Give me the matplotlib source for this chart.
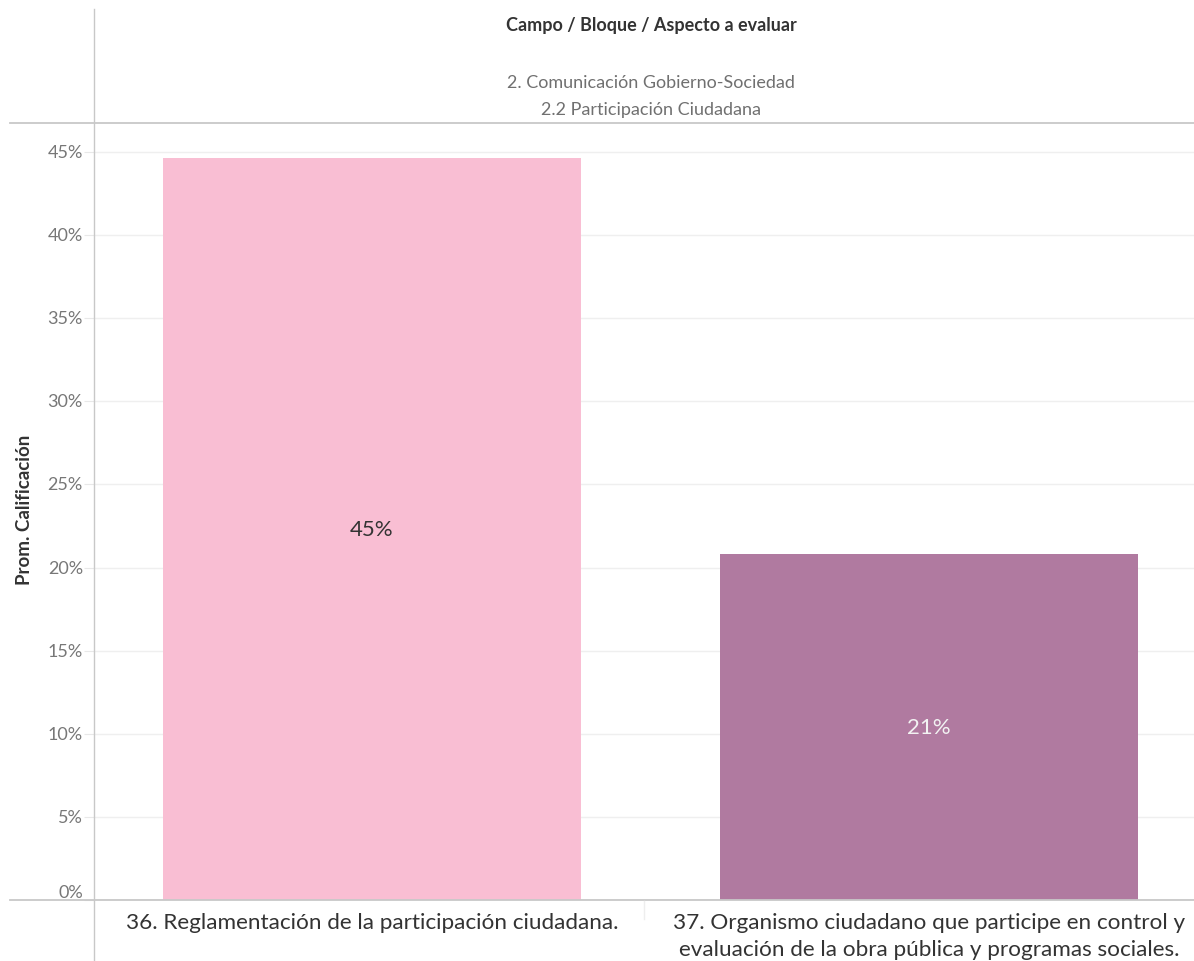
import matplotlib as mpl
import matplotlib.pyplot as plt
from matplotlib.lines import Line2D

mpl.rcParams['font.family'] = ['Lato', 'DejaVu Sans']

# data
categories = ['36. Reglamentación de la participación ciudadana.',
              '37. Organismo ciudadano que participe en control y\nevaluación de la obra pública y programas sociales.']
values = [44.65, 20.8]
value_labels = ['45%', '21%']
label_colors = ['#333333', '#f2f2f2']
bar_colors = ['#F9BED3', '#B07AA0']
yticks = [0, 5, 10, 15, 20, 25, 30, 35, 40, 45]

header = 'Campo / Bloque / Aspecto a evaluar'
subheader = ['2. Comunicación Gobierno-Sociedad', '2.2 Participación Ciudadana']

W, H = 1194, 962
fig = plt.figure(figsize=(W / 100, H / 100), dpi=100)

def fx(px):
    return px / W

def fy(py):
    return 1 - py / H

ax = fig.add_axes([fx(94), fy(901), fx(1194) - fx(94), fy(124) - fy(901)])

xs = [0, 1]
ax.bar(xs, values, width=0.75, color=bar_colors, zorder=2)
ax.set_xlim(-0.499, 1.476)
ax.set_ylim(0, 46.75)

for x, v, lab, c in zip(xs, values, value_labels, label_colors):
    ax.text(x, v / 2, lab, ha='center', va='center', fontsize=16, color=c, zorder=3)

ax.set_yticks(yticks)
ax.set_yticklabels([f'{t}%' for t in yticks], fontsize=13, color='#777777')
for lab in ax.get_yticklabels():
    lab.set_verticalalignment('bottom' if lab.get_text() == '0%' else 'center')
ax.tick_params(axis='y', length=7, color='#e8e8e8', pad=1)
ax.set_xticks([])
ax.grid(axis='y', color='#efefef', linewidth=1, zorder=0)
for s in ax.spines.values():
    s.set_visible(False)

# category labels under the bars
for x, cat in zip(xs, categories):
    ax.text(x, -0.7, cat, ha='center', va='top', fontsize=16.2, color='#333333',
            linespacing=1.45)

# frame lines in figure coordinates
lc = '#c8c8c8'
fig.add_artist(Line2D([fx(94), fx(94)], [fy(10), fy(962)], color=lc, lw=1))
fig.add_artist(Line2D([fx(10), 1], [fy(124), fy(124)], color=lc, lw=1.3))
fig.add_artist(Line2D([fx(10), 1], [fy(901), fy(901)], color=lc, lw=1.3))
fig.add_artist(Line2D([fx(644), fx(644)], [fy(902), fy(920)], color='#eeeeee', lw=1))

fig.text(fx(651), fy(25), header, ha='center', va='center', fontsize=13,
         color='#333333', fontweight='bold')
fig.text(fx(651), fy(83), subheader[0], ha='center', va='center', fontsize=13, color='#707070')
fig.text(fx(651), fy(110), subheader[1], ha='center', va='center', fontsize=13, color='#707070')

fig.text(fx(25), fy(510), 'Prom. Calificación', rotation=90, ha='center', va='center',
         fontsize=13.5, color='#333333', fontweight='bold')

fig.savefig('out.png', dpi=100)
